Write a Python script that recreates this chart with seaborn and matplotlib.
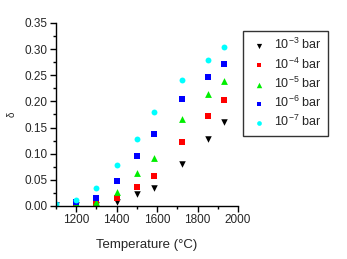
import seaborn as sns
import matplotlib.pyplot as plt
import pandas as pd
from matplotlib.ticker import MultipleLocator

temps = [1100, 1200, 1300, 1400, 1500, 1585, 1725, 1852, 1933]
d_1e3 = [0.001, 0.002, 0.001, 0.008, 0.022, 0.034, 0.081, 0.129, 0.161]
d_1e4 = [0.001, 0.004, 0.005, 0.015, 0.036, 0.058, 0.122, 0.173, 0.203]
d_1e5 = [0.001, 0.006, 0.007, 0.027, 0.063, 0.092, 0.166, 0.215, 0.240]
d_1e6 = [0.002, 0.008, 0.015, 0.047, 0.096, 0.137, 0.204, 0.247, 0.272]
d_1e7 = [0.003, 0.011, 0.034, 0.078, 0.128, 0.180, 0.241, 0.280, 0.304]
labels = ["10$^{-3}$ bar", "10$^{-4}$ bar", "10$^{-5}$ bar", "10$^{-6}$ bar", "10$^{-7}$ bar"]

rows = []
for lab, vals in zip(labels, [d_1e3, d_1e4, d_1e5, d_1e6, d_1e7]):
    for t, v in zip(temps, vals):
        rows.append({"T": t, "delta": v, "p": lab})
df = pd.DataFrame(rows)

sns.set_theme(style="ticks")
plt.rcParams["font.family"] = ["Liberation Sans", "DejaVu Sans"]
plt.rcParams["mathtext.default"] = "regular"

fig = plt.figure(figsize=(3.47, 2.59), dpi=100)
ax = fig.add_axes([56 / 347, 53 / 259, 182 / 347, 183 / 259])

colors = ["black", "#ff0000", "#00ee00", "#0000ff", "#00ffff"]
markers = ["v", "s", "^", "s", "o"]
sizes = [22, 14, 24, 14, 18]
for lab, c, m, s in zip(labels, colors, markers, sizes):
    sub = df[df["p"] == lab]
    sns.scatterplot(data=sub, x="T", y="delta", color=c, marker=m, s=s,
                    linewidth=0, ax=ax, label=lab)

ax.set_xlim(1100, 2000)
ax.set_ylim(0, 0.35)
ax.xaxis.set_major_locator(MultipleLocator(200))
ax.xaxis.set_minor_locator(MultipleLocator(100))
ax.yaxis.set_major_locator(MultipleLocator(0.05))
ax.yaxis.set_minor_locator(MultipleLocator(0.025))
ax.yaxis.set_major_formatter(plt.FormatStrFormatter("%.2f"))
ax.tick_params(which="major", direction="out", length=4, width=1, labelsize=8.5, color="black", pad=2)
ax.tick_params(which="minor", direction="out", length=2.5, width=1, color="black")
for s in ["left", "bottom"]:
    ax.spines[s].set_color("black")
    ax.spines[s].set_linewidth(1)
sns.despine(ax=ax)

ax.set_xlabel("Temperature (°C)", fontsize=9.5, labelpad=9)
ax.set_ylabel("δ", fontsize=7, labelpad=6)

leg = ax.legend(loc="upper left", bbox_to_anchor=(243 / 347, 1 - 31 / 259),
                bbox_transform=fig.transFigure, fontsize=9, frameon=True,
                fancybox=False, edgecolor="black", labelspacing=0.32,
                handletextpad=0.5, handlelength=1.5, borderpad=0.5,
                borderaxespad=0, markerscale=0.8)
leg.get_frame().set_linewidth(1)

fig.savefig("out.png", dpi=100)
